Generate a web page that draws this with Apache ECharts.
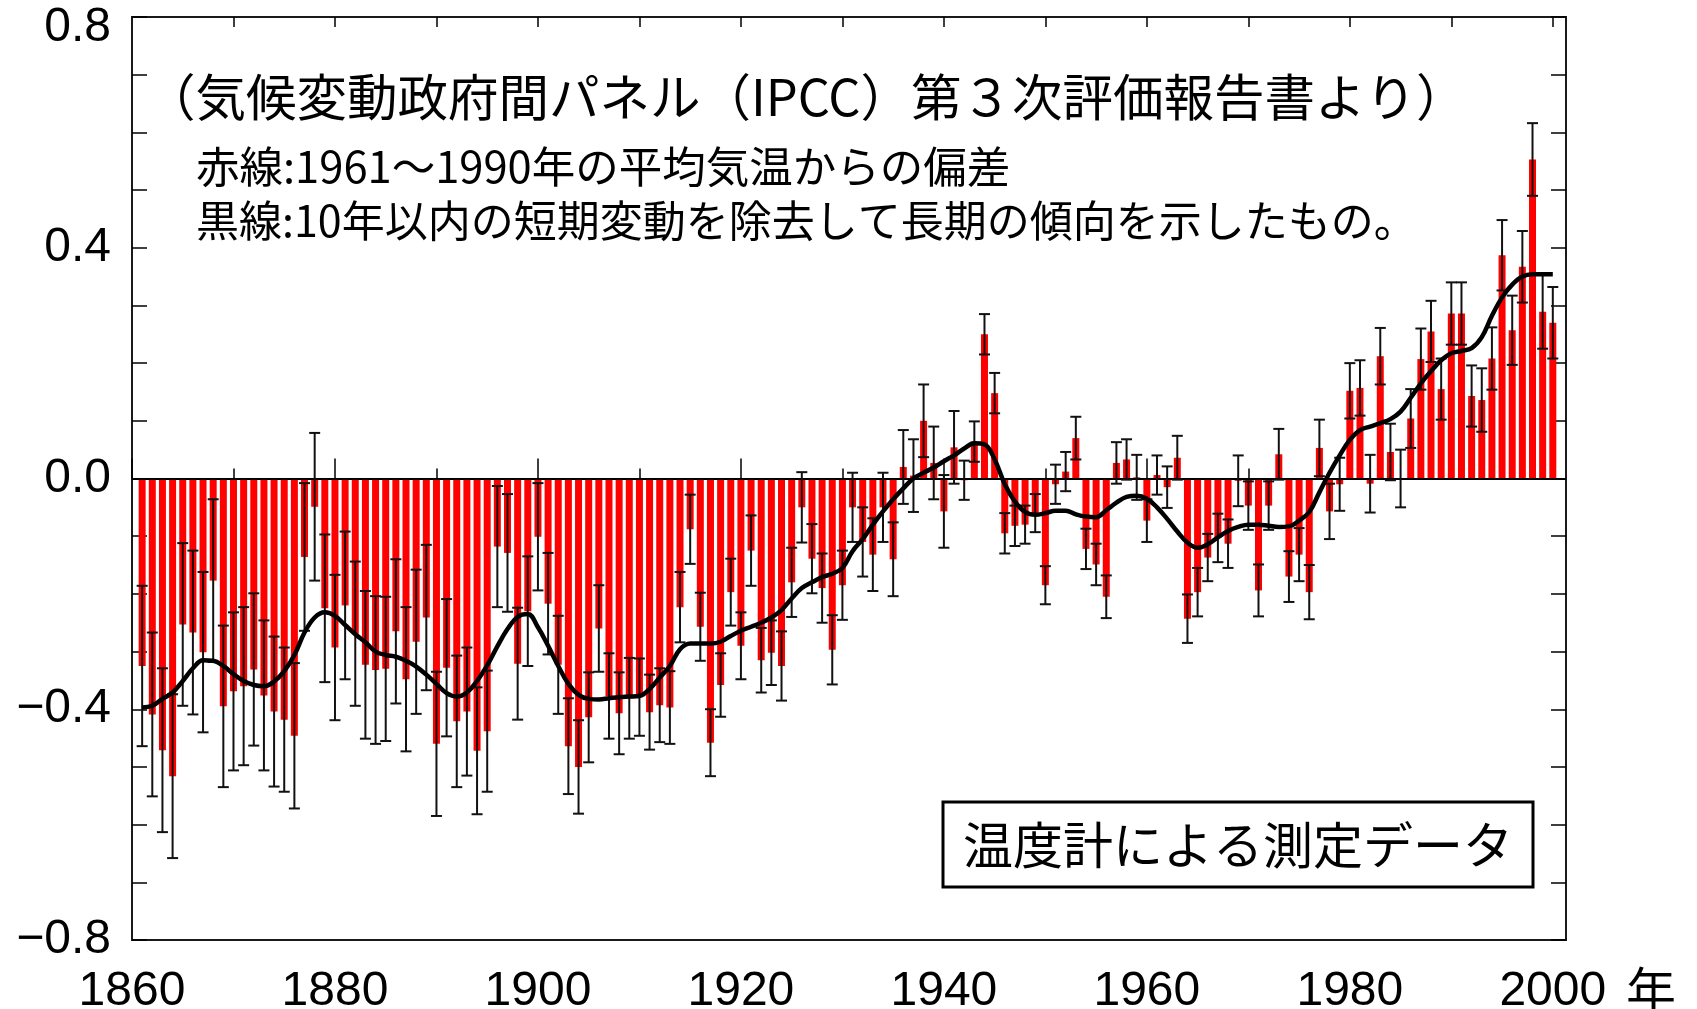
<!DOCTYPE html>
<html>
<head>
<meta charset="utf-8">
<script src="https://cdn.jsdelivr.net/npm/echarts@6/dist/echarts.min.js"></script>
<style>
  html, body { margin: 0; padding: 0; background: #fff; }
  #chart { width: 1697px; height: 1009px; }
</style>
</head>
<body>
<div id="chart"></div>
<script>
// Global mean temperature anomaly (°C, relative to 1961–1990), yearly from 1861
const FIRST_YEAR = 1861;

const anomaly = [
  -0.325, -0.409, -0.471, -0.516, -0.253, -0.267, -0.301, -0.177, -0.395, -0.369, // 1861-1870
  -0.360, -0.331, -0.376, -0.404, -0.418, -0.446, -0.136, -0.049, -0.225, -0.293, // 1871-1880
  -0.220, -0.269, -0.323, -0.332, -0.330, -0.265, -0.348, -0.283, -0.241, -0.460, // 1881-1890
  -0.328, -0.421, -0.404, -0.472, -0.438, -0.118, -0.129, -0.321, -0.230, -0.101, // 1891-1900
  -0.217, -0.323, -0.464, -0.500, -0.414, -0.260, -0.377, -0.407, -0.381, -0.379, // 1901-1910
  -0.405, -0.393, -0.397, -0.223, -0.088, -0.257, -0.458, -0.358, -0.197, -0.290, // 1911-1920
  -0.125, -0.315, -0.302, -0.325, -0.180, -0.050, -0.139, -0.190, -0.297, -0.185, // 1921-1930
  -0.050, -0.110, -0.132, -0.050, -0.140,  0.020,  0.005,  0.100,  0.027, -0.057, // 1931-1940
   0.054, -0.003,  0.064,  0.250,  0.148, -0.095, -0.082, -0.080, -0.060, -0.185, // 1941-1950
  -0.010,  0.012,  0.070, -0.122, -0.149, -0.205,  0.027,  0.033,  0.002, -0.073, // 1951-1960
   0.006, -0.015,  0.036, -0.243, -0.197, -0.137, -0.103, -0.113, -0.004, -0.047, // 1961-1970
  -0.194, -0.047,  0.042, -0.170, -0.132, -0.197,  0.053, -0.057, -0.010,  0.152, // 1971-1980
   0.157, -0.009,  0.212,  0.046,  0.000,  0.104,  0.207,  0.255,  0.155,  0.286, // 1981-1990
   0.286,  0.143,  0.136,  0.208,  0.387,  0.257,  0.367,  0.553,  0.289,  0.270  // 1991-2000
];

// Half-width of the uncertainty range for each year (°C)
const uncertainty = [
  0.139, 0.142, 0.142, 0.142, 0.141, 0.142, 0.139, 0.141, 0.140, 0.137,
  0.137, 0.132, 0.130, 0.130, 0.125, 0.126, 0.128, 0.128, 0.128, 0.126,
  0.128, 0.125, 0.128, 0.128, 0.125, 0.125, 0.125, 0.125, 0.126, 0.125,
  0.119, 0.114, 0.111, 0.110, 0.105, 0.105, 0.102, 0.097, 0.095, 0.093,
  0.088, 0.085, 0.083, 0.081, 0.078, 0.075, 0.074, 0.071, 0.070, 0.067,
  0.065, 0.064, 0.063, 0.061, 0.060, 0.059, 0.058, 0.055, 0.058, 0.058,
  0.061, 0.056, 0.056, 0.060, 0.060, 0.061, 0.060, 0.060, 0.060, 0.060,
  0.060, 0.060, 0.063, 0.060, 0.064, 0.064, 0.063, 0.063, 0.063, 0.063,
  0.063, 0.034, 0.035, 0.035, 0.035, 0.035, 0.035, 0.033, 0.033, 0.033,
  0.034, 0.034, 0.037, 0.035, 0.036, 0.037, 0.036, 0.035, 0.039, 0.037,
  0.034, 0.036, 0.038, 0.042, 0.042, 0.041, 0.042, 0.042, 0.044, 0.042,
  0.045, 0.042, 0.044, 0.044, 0.046, 0.047, 0.049, 0.048, 0.046, 0.048,
  0.048, 0.050, 0.049, 0.049, 0.050, 0.051, 0.053, 0.053, 0.053, 0.054,
  0.054, 0.053, 0.055, 0.054, 0.061, 0.060, 0.062, 0.063, 0.064, 0.062
];

// Long-term trend with variations shorter than ~10 years removed (°C)
const trend = [
  -0.397, -0.394, -0.382, -0.371, -0.351, -0.329, -0.315, -0.316, -0.325, -0.339,
  -0.351, -0.358, -0.360, -0.352, -0.334, -0.306, -0.267, -0.241, -0.232, -0.238,
  -0.254, -0.270, -0.284, -0.300, -0.306, -0.309, -0.316, -0.326, -0.340, -0.356,
  -0.372, -0.378, -0.371, -0.351, -0.324, -0.291, -0.261, -0.240, -0.235, -0.258,
  -0.290, -0.325, -0.356, -0.375, -0.382, -0.383, -0.381, -0.379, -0.378, -0.377,
  -0.365, -0.345, -0.325, -0.296, -0.286, -0.286, -0.286, -0.283, -0.273, -0.264,
  -0.257, -0.250, -0.241, -0.228, -0.208, -0.190, -0.180, -0.171, -0.165, -0.155,
  -0.126, -0.105, -0.080, -0.057, -0.036, -0.017,  0.000,  0.010,  0.019,  0.030,
   0.040,  0.052,  0.061,  0.059,  0.033, -0.010, -0.040, -0.058, -0.063, -0.060,
  -0.056, -0.056, -0.062, -0.066, -0.067, -0.055, -0.042, -0.032, -0.030, -0.035,
  -0.050, -0.070, -0.092, -0.111, -0.120, -0.114, -0.102, -0.091, -0.084, -0.080,
  -0.080, -0.082, -0.084, -0.083, -0.073, -0.058, -0.024,  0.010,  0.040,  0.067,
   0.084,  0.090,  0.096,  0.103,  0.116,  0.140,  0.165,  0.186,  0.205,  0.217,
   0.221,  0.226,  0.245,  0.282,  0.314,  0.336,  0.350,  0.354,  0.354,  0.354
];

const xLabelTicks = [1860, 1880, 1900, 1920, 1940, 1960, 1980, 2000];
const xMinorTicks = [1870, 1890, 1910, 1930, 1950, 1970, 1990];
const xTopTicks = [1870, 1880, 1890, 1900, 1910, 1920, 1930, 1940, 1950, 1960, 1970, 1980, 1990, 2000];
const yLabelTicks = [-0.8, -0.4, 0.0, 0.4, 0.8];

const titleText = '（気候変動政府間パネル（IPCC）第３次評価報告書より）';
const noteRed = '赤線:1961～1990年の平均気温からの偏差';
const noteBlack = '黒線:10年以内の短期変動を除去して長期の傾向を示したもの。';
const boxText = '温度計による測定データ';
const yearUnit = '年';

// ---- build series data ----
const barData = anomaly.map((v, i) => [FIRST_YEAR + i, v]);
const errData = anomaly.map((v, i) => [FIRST_YEAR + i, v - uncertainty[i], v + uncertainty[i]]);
const trendData = trend.map((v, i) => [FIRST_YEAR + i, v]);

const NUM_FONT = '"Liberation Sans Narrow", "Arial Narrow", "Liberation Sans", sans-serif';
const JP_FONT = '"Noto Sans CJK JP", "Noto Sans", sans-serif';

const chart = echarts.init(document.getElementById('chart'), null, { renderer: 'canvas' });

const X_MIN = 1860, X_MAX = 2001.3;

function fmtY(v) {
  const r = Math.round(v * 10) / 10;
  const isLabel = yLabelTicks.some(t => Math.abs(t - r) < 1e-6);
  if (!isLabel) return '';
  const s = Math.abs(r).toFixed(1);
  if (r > 0.75) return '{top|' + s + '}';
  return (r < 0 ? '\u2212' : '') + s;
}

const option = {
  animation: false,
  backgroundColor: '#ffffff',
  grid: {
    left: 132, right: 131, top: 17, bottom: 69,
    containLabel: false, outerBoundsMode: 'none',
    show: true, borderColor: '#1a1a1a', borderWidth: 2, backgroundColor: 'transparent'
  },
  xAxis: [
    {
      type: 'value', position: 'bottom', min: X_MIN, max: X_MAX, interval: 20,
      axisLine: { show: false }, splitLine: { show: false },
      axisTick: { show: true, inside: true, length: 20, customValues: xLabelTicks,
                  lineStyle: { color: '#000', width: 1.5 } },
      axisLabel: {
        show: true, margin: 28, customValues: xLabelTicks,
        formatter: v => (Math.abs(v % 20) < 1e-6 ? String(v) : ''),
        fontFamily: NUM_FONT, fontSize: 48, color: '#000'
      }
    },
    {
      type: 'value', position: 'bottom', min: X_MIN, max: X_MAX, interval: 10,
      axisLine: { show: false }, splitLine: { show: false }, axisLabel: { show: false },
      axisTick: { show: true, inside: true, length: 10, customValues: xMinorTicks,
                  lineStyle: { color: '#000', width: 1.5 } }
    },
    {
      type: 'value', position: 'top', min: X_MIN, max: X_MAX, interval: 10,
      axisLine: { show: false }, splitLine: { show: false }, axisLabel: { show: false },
      axisTick: { show: true, inside: true, length: 10, customValues: xTopTicks,
                  lineStyle: { color: '#000', width: 1.5 } }
    }
  ],
  yAxis: [
    {
      type: 'value', position: 'left', min: -0.8, max: 0.8, interval: 0.1,
      axisLine: { show: false }, splitLine: { show: false },
      axisTick: { show: true, inside: true, length: 15, lineStyle: { color: '#000', width: 1.5 } },
      axisLabel: {
        show: true, margin: 21, formatter: fmtY,
        fontFamily: NUM_FONT, fontSize: 48, color: '#000',
        rich: { top: { fontFamily: NUM_FONT, fontSize: 48, color: '#000', padding: [22, 0, 0, 0] } }
      }
    },
    {
      type: 'value', position: 'right', min: -0.8, max: 0.8, interval: 0.1,
      axisLine: { show: false }, splitLine: { show: false }, axisLabel: { show: false },
      axisTick: { show: true, inside: true, length: 15, lineStyle: { color: '#000', width: 1.5 } }
    }
  ],
  series: [
    {
      name: 'anomaly', type: 'bar', xAxisIndex: 0, yAxisIndex: 0,
      data: barData, barWidth: 7,
      itemStyle: { color: '#ff0000' },
      z: 2,
      markLine: {
        silent: true, symbol: 'none', label: { show: false },
        lineStyle: { color: '#000', width: 2, type: 'solid' },
        data: [{ yAxis: 0 }],
        z: 3
      }
    },
    {
      name: 'uncertainty', type: 'custom', xAxisIndex: 0, yAxisIndex: 0,
      data: errData, z: 4,
      renderItem: function (params, api) {
        const x = api.value(0);
        const top = api.coord([x, api.value(2)]);
        const bot = api.coord([x, api.value(1)]);
        const cap = 5.5;
        const st = { stroke: '#111', lineWidth: 2 };
        return {
          type: 'group',
          children: [
            { type: 'line', shape: { x1: top[0], y1: top[1], x2: bot[0], y2: bot[1] }, style: st },
            { type: 'line', shape: { x1: top[0] - cap, y1: top[1], x2: top[0] + cap, y2: top[1] }, style: st },
            { type: 'line', shape: { x1: bot[0] - cap, y1: bot[1], x2: bot[0] + cap, y2: bot[1] }, style: st }
          ]
        };
      }
    },
    {
      name: 'trend', type: 'line', xAxisIndex: 0, yAxisIndex: 0,
      data: trendData, showSymbol: false, smooth: 0.4, z: 5,
      lineStyle: { color: '#000', width: 4.5 }
    }
  ],
  graphic: [
    { type: 'text', x: 145, y: 97, z: 10,
      style: { text: titleText, fontFamily: JP_FONT, fontSize: 50.5, fill: '#000', verticalAlign: 'middle', align: 'left' } },
    { type: 'text', x: 196, y: 166, z: 10,
      style: { text: noteRed, fontFamily: JP_FONT, fontSize: 43.5, fill: '#000', verticalAlign: 'middle', align: 'left' } },
    { type: 'text', x: 196, y: 221, z: 10,
      style: { text: noteBlack, fontFamily: JP_FONT, fontSize: 43, fill: '#000', verticalAlign: 'middle', align: 'left' } },
    { type: 'rect', z: 10, shape: { x: 943, y: 802, width: 590, height: 85 },
      style: { fill: '#fff', stroke: '#000', lineWidth: 3 } },
    { type: 'text', x: 1238, y: 845, z: 11,
      style: { text: boxText, fontFamily: JP_FONT, fontSize: 50, fill: '#000', verticalAlign: 'middle', align: 'center' } },
    { type: 'text', x: 1651, y: 990, z: 10,
      style: { text: yearUnit, fontFamily: JP_FONT, fontSize: 50, fill: '#000', verticalAlign: 'middle', align: 'center' } }
  ]
};

chart.setOption(option);
</script>
</body>
</html>
